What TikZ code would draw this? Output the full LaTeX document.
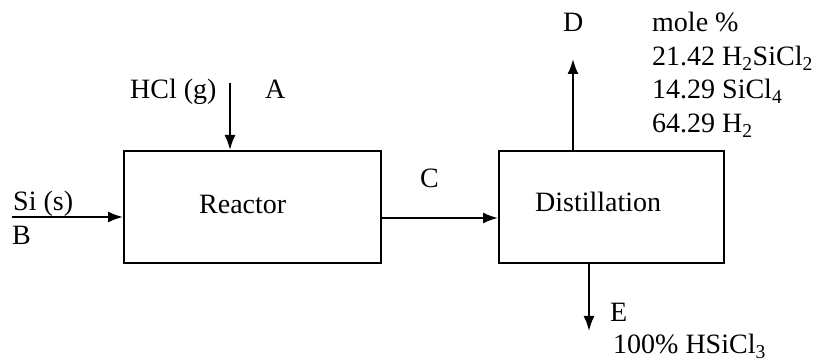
\documentclass[tikz,border=0pt]{standalone}
\usepackage{fontspec}
\setmainfont{Liberation Serif}
\usetikzlibrary{arrows.meta}
\begin{document}
\begin{tikzpicture}[x=1pt,y=1pt,
  txt/.style={inner sep=0pt, anchor=base west, font=\fontsize{28}{34}\selectfont},
  box/.style={draw, line width=2pt, inner sep=0pt},
  flow/.style={line width=2pt, -{Latex[length=15pt,width=11pt]}}]
\useasboundingbox (0,0) rectangle (825,363);
% units
\node[box, minimum width=257pt, minimum height=112pt] (reactor) at (252.5,156) {};
\node[box, minimum width=225pt, minimum height=112pt] (dist) at (611.5,156) {};
% texts
\node[txt] (reactorlbl) at (199,149) {Reactor};
\node[txt] (distlbl) at (535,151) {Distillation};
\node[txt] (hcl) at (130,264) {HCl (g)};
\node[txt] (alab) at (265,264) {A};
\node[txt] (si) at (13,152) {Si (s)};
\node[txt] (blab) at (12,118) {B};
\node[txt] (clab) at (420,175) {C};
\node[txt] (dlab) at (563,331) {D};
\node[txt] (m0) at (652,331) {mole \%};
\node[txt] (m1) at (652,297) {21.42 H\textsubscript{2}SiCl\textsubscript{2}};
\node[txt] (m2) at (652,264) {14.29 SiCl\textsubscript{4}};
\node[txt] (m3) at (652,230) {64.29 H\textsubscript{2}};
\node[txt] (elab) at (610,41) {E};
\node[txt] (e1) at (613,9) {100\% HSiCl\textsubscript{3}};
% streams
\coordinate (a0) at (230,280);
\coordinate (b0) at (12,146);
\draw[flow] (a0) -- (a0 |- reactor.north);
\draw[flow] (b0) -- (b0 -| reactor.west);
\draw[flow] ([yshift=-11pt]reactor.east) -- ([yshift=-11pt]dist.west);
\draw[flow] ([xshift=-38.5pt]dist.north) -- ++(0,91);
\draw[flow] ([xshift=-22.5pt]dist.south) -- ++(0,-67);
\end{tikzpicture}
\end{document}
